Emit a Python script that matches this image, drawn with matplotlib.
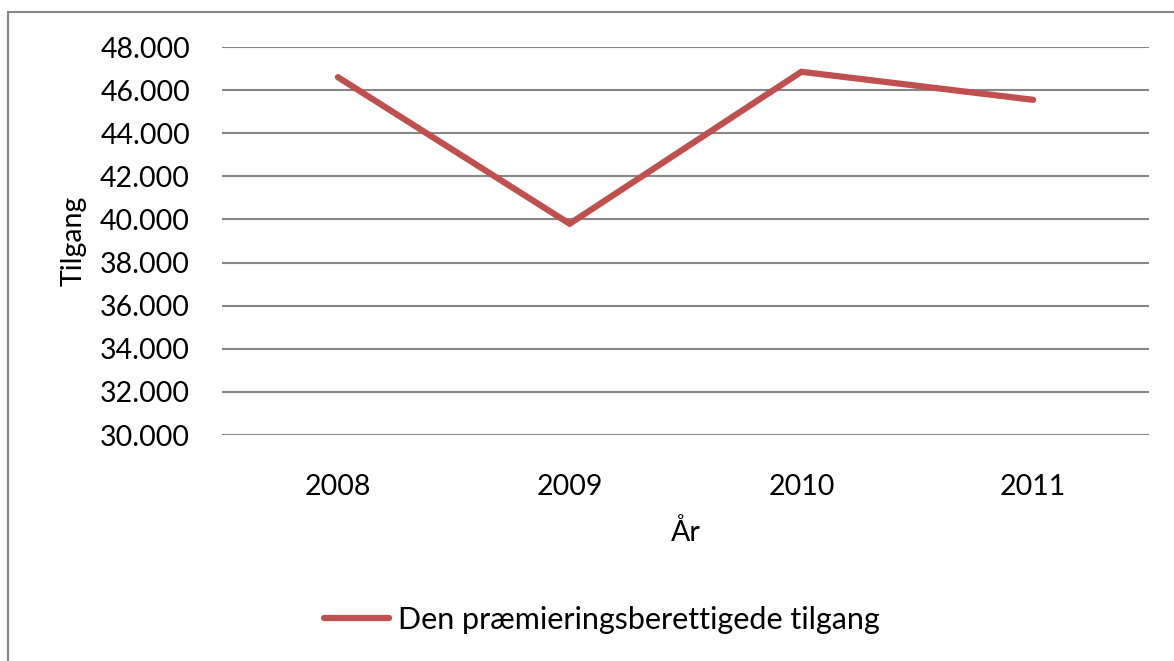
import matplotlib
matplotlib.use("Agg")
import matplotlib.pyplot as plt
from matplotlib.ticker import FuncFormatter, MultipleLocator
from matplotlib.patches import Rectangle

# ── Data ─────────────────────────────────────────────────────────────────────
years = ["2008", "2009", "2010", "2011"]
tilgang = [46600, 39800, 46850, 45550]
series_name = "Den præmieringsberettigede tilgang"

LINE_COLOR = "#C0504D"
GRID_COLOR = "#868686"
FS = 20.5

plt.rcParams["font.family"] = ["Lato", "DejaVu Sans"]

fig = plt.figure(figsize=(11.74, 6.61), dpi=100)
ax = fig.add_axes([222 / 1174, 1 - 435 / 661, (1149 - 222) / 1174, (435 - 47) / 661])

x = list(range(len(years)))
line, = ax.plot(x, tilgang, color=LINE_COLOR, linewidth=4.5,
                solid_capstyle="round", solid_joinstyle="miter",
                label=series_name, zorder=3)

ax.set_xlim(-0.5, len(years) - 0.5)
ax.set_ylim(30000, 48000)
ax.yaxis.set_major_locator(MultipleLocator(2000))
ax.yaxis.set_major_formatter(FuncFormatter(lambda v, p: f"{v:,.0f}".replace(",", ".")))
ax.set_xticks(x)
ax.set_xticklabels(years)

ax.grid(axis="y", color=GRID_COLOR, linewidth=1.5)
ax.set_axisbelow(True)
for s in ax.spines.values():
    s.set_visible(False)
ax.tick_params(axis="both", length=0, labelsize=FS, colors="black")
ax.tick_params(axis="y", pad=23)
ax.tick_params(axis="x", pad=28)

ax.set_ylabel("Tilgang", fontsize=FS, labelpad=10)
ax.set_xlabel("År", fontsize=FS, labelpad=14)

fig.legend(handles=[line], loc="center", bbox_to_anchor=(602 / 1174, 1 - 620 / 661),
           frameon=False, fontsize=22, handlelength=2.1, handletextpad=0.3)

# outer chart frame
fig.patches.append(Rectangle((8 / 1174, -0.1), 1.2, 1 - 12 / 661 + 0.1,
                             transform=fig.transFigure, fill=False,
                             edgecolor=GRID_COLOR, linewidth=1.5))

fig.savefig("out.png", dpi=100)
